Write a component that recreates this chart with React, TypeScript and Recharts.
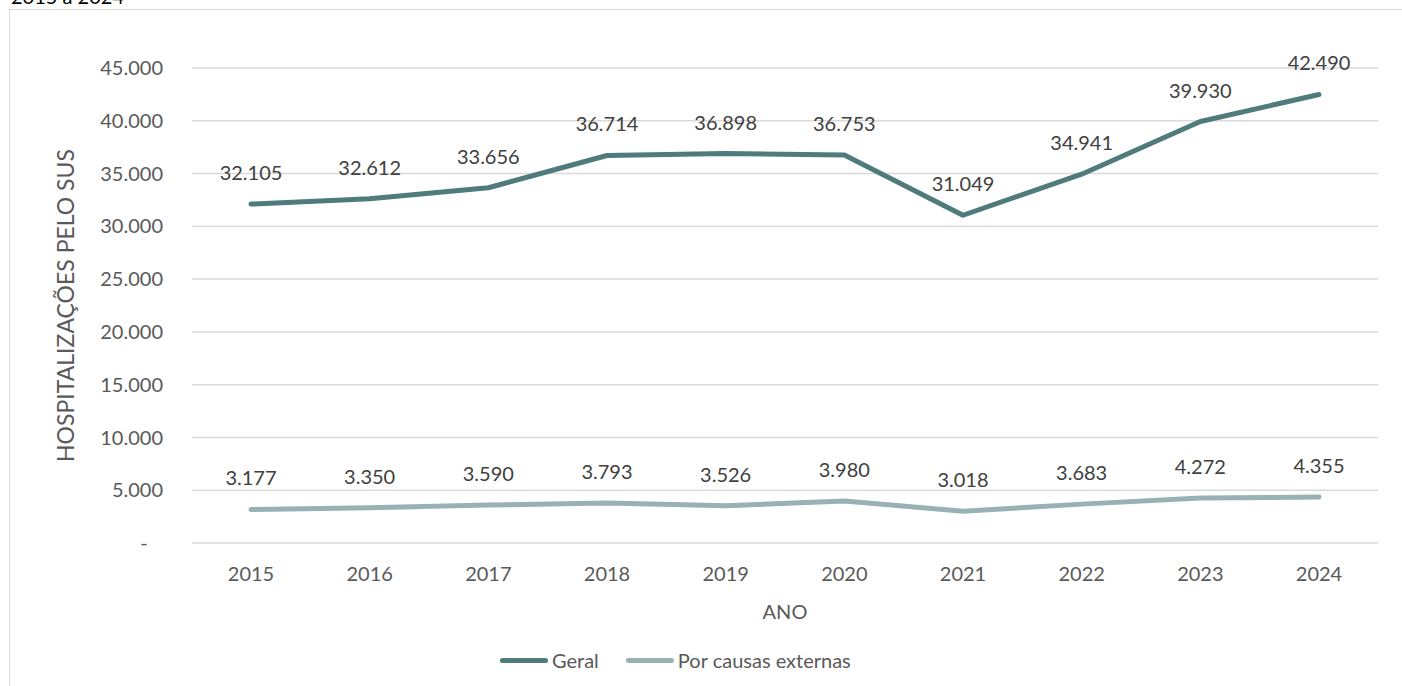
import React from "react";
import {
  CartesianGrid,
  LabelList,
  Line,
  LineChart,
  XAxis,
  YAxis,
} from "recharts";

const anos = ["2015", "2016", "2017", "2018", "2019", "2020", "2021", "2022", "2023", "2024"];
const geral = [32105, 32612, 33656, 36714, 36898, 36753, 31049, 34941, 39930, 42490];
const causasExternas = [3177, 3350, 3590, 3793, 3526, 3980, 3018, 3683, 4272, 4355];
const yTicks = [0, 5000, 10000, 15000, 20000, 25000, 30000, 35000, 40000, 45000];

const data = anos.map((ano, i) => ({
  ano,
  geral: geral[i],
  externas: causasExternas[i],
}));

const FONT = "Lato, 'Open Sans', sans-serif";
const COR_GERAL = "#4f7b7a";
const COR_EXT = "#98b1b2";

// 45000 -> "45.000", 0 -> "-"
const fmt = (v: number) =>
  v === 0 ? "-\u00A0\u00A0\u00A0" : String(v).replace(/\B(?=(\d{3})+(?!\d))/g, ".");

const LegendItem = ({ color, text }: { color: string; text: string }) => (
  <div style={{ display: "flex", alignItems: "center", marginRight: 27 }}>
    <div
      style={{
        width: 48,
        height: 5,
        borderRadius: 3,
        background: color,
        marginRight: 4,
      }}
    />
    <span>{text}</span>
  </div>
);

export default function App() {
  return (
    <div
      style={{
        position: "absolute",
        left: 0,
        top: 0,
        width: 1402,
        height: 686,
        overflow: "hidden",
        background: "#fff",
        fontFamily: FONT,
      }}
    >
      <div
        style={{
          position: "absolute",
          left: 11,
          top: -14,
          fontSize: 20,
          lineHeight: "20px",
          color: "#000",
        }}
      >
        2015 a 2024
      </div>
      <div
        style={{
          position: "absolute",
          left: 9,
          top: 9,
          width: 1500,
          height: 800,
          border: "1.5px solid #d9d9d9",
        }}
      />
      <div style={{ position: "absolute", left: 0, top: 0 }}>
        <LineChart
          width={1402}
          height={686}
          data={data}
          margin={{ top: 68, right: 24, left: 50, bottom: 63 }}
        >
          <CartesianGrid vertical={false} stroke="#d9d9d9" strokeWidth={1.5} />
          <XAxis
            dataKey="ano"
            axisLine={false}
            tickLine={false}
            tickSize={0}
            tickMargin={24}
            height={80}
            padding={{ left: 59, right: 59 }}
            tick={{ fill: "#595959", fontSize: 20, fontFamily: FONT }}
            label={{
              value: "ANO",
              position: "insideBottom",
              offset: 4,
              fill: "#595959",
              fontSize: 20,
              fontFamily: FONT,
            }}
          />
          <YAxis
            width={142}
            domain={[0, 45000]}
            ticks={yTicks}
            interval={0}
            axisLine={false}
            tickLine={false}
            tickSize={0}
            tickMargin={29}
            tickFormatter={fmt}
            tick={{ fill: "#595959", fontSize: 20, fontFamily: FONT }}
            label={{
              value: "HOSPITALIZAÇÕES PELO SUS",
              angle: -90,
              position: "insideLeft",
              offset: 16,
              fill: "#595959",
              fontSize: 23,
              fontFamily: FONT,
              style: { textAnchor: "middle" },
            }}
          />
          <Line
            dataKey="geral"
            name="Geral"
            stroke={COR_GERAL}
            strokeWidth={5}
            strokeLinecap="round"
            strokeLinejoin="round"
            dot={false}
            activeDot={false}
            isAnimationActive={false}
          >
            <LabelList
              dataKey="geral"
              position="top"
              offset={24}
              formatter={(v: any) => fmt(Number(v))}
              style={{ fill: "#404040", fontSize: 20, fontFamily: FONT }}
            />
          </Line>
          <Line
            dataKey="externas"
            name="Por causas externas"
            stroke={COR_EXT}
            strokeWidth={5}
            strokeLinecap="round"
            strokeLinejoin="round"
            dot={false}
            activeDot={false}
            isAnimationActive={false}
          >
            <LabelList
              dataKey="externas"
              position="top"
              offset={24}
              formatter={(v: any) => fmt(Number(v))}
              style={{ fill: "#404040", fontSize: 20, fontFamily: FONT }}
            />
          </Line>
        </LineChart>
      </div>
      <div
        style={{
          position: "absolute",
          left: 500,
          top: 648,
          display: "flex",
          fontSize: 20,
          lineHeight: "24px",
          color: "#595959",
        }}
      >
        <LegendItem color={COR_GERAL} text="Geral" />
        <LegendItem color={COR_EXT} text="Por causas externas" />
      </div>
    </div>
  );
}
